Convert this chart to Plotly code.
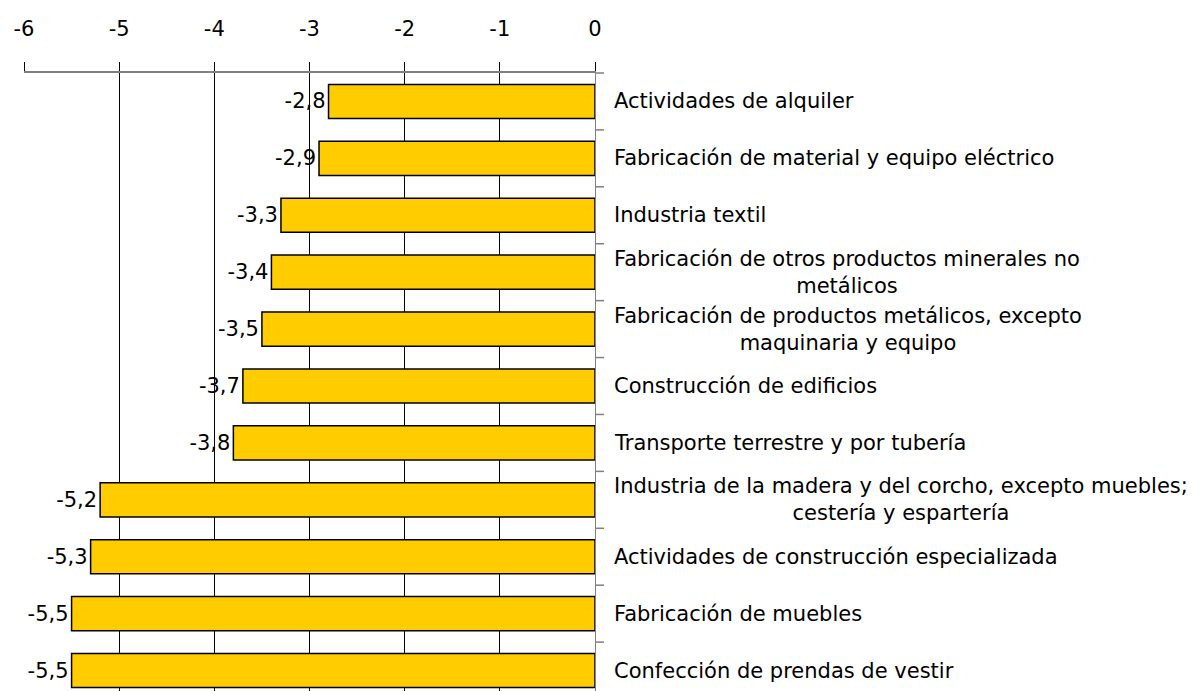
import plotly.graph_objects as go

categories = [
    "Actividades de alquiler",
    "Fabricación de material y equipo eléctrico",
    "Industria textil",
    "Fabricación de otros productos minerales no<br>metálicos",
    "Fabricación de productos metálicos, excepto<br>maquinaria y equipo",
    "Construcción de edificios",
    "Transporte terrestre y por tubería",
    "Industria de la madera y del corcho, excepto muebles;<br>cestería y espartería",
    "Actividades de construcción especializada",
    "Fabricación de muebles",
    "Confección de prendas de vestir",
]
values = [-2.8, -2.9, -3.3, -3.4, -3.5, -3.7, -3.8, -5.2, -5.3, -5.5, -5.5]
x_ticks = [-6, -5, -4, -3, -2, -1, 0]

FONT = "DejaVu Sans, Arial, sans-serif"
FS = 21
cat_ids = list(range(len(categories)))

fig = go.Figure()
fig.add_trace(go.Bar(
    x=values,
    y=cat_ids,
    orientation="h",
    width=0.6,
    marker=dict(color="#FFCC00", line=dict(color="black", width=1.5)),
    texttemplate="%{x:.1f}",
    textposition="outside",
    textfont=dict(size=FS, color="black", family=FONT),
    cliponaxis=False,
    hoverinfo="skip",
))

for i, c in enumerate(categories):
    fig.add_annotation(
        x=1, xref="paper", y=i, yref="y",
        xanchor="left", yanchor="middle", xshift=17,
        text=c, showarrow=False, align="center",
        font=dict(size=FS, color="black", family=FONT),
    )

# top axis line extends slightly beyond the right axis
fig.add_shape(type="line", xref="paper", yref="paper",
              x0=1, x1=1 + 9 / 571, y0=1, y1=1,
              line=dict(color="#808080", width=1.5))

fig.update_layout(
    width=1200, height=691,
    margin=dict(l=16, r=613, t=65, b=0),
    plot_bgcolor="white", paper_bgcolor="white",
    separators=",.",
    showlegend=False,
    font=dict(family=FONT, color="black", size=FS),
    xaxis=dict(
        side="top", range=[-6, 0], tickvals=x_ticks,
        ticktext=[str(v) for v in x_ticks],
        showgrid=True, gridcolor="black", gridwidth=1,
        zeroline=True, zerolinecolor="black", zerolinewidth=1,
        ticks="outside", ticklen=9, tickcolor="black", tickwidth=1,
        showline=True, linecolor="#808080", linewidth=1.5,
        ticklabelstandoff=18, automargin=False,
        tickfont=dict(size=FS, family=FONT, color="black"),
    ),
    yaxis=dict(
        side="right", range=[10.5, -0.5],
        tickvals=cat_ids, showticklabels=False,
        showgrid=False, zeroline=False, automargin=False,
        showline=True, linecolor="#808080", linewidth=1,
    ),
)

# category boundary ticks on the right axis
for b in range(1, len(categories)):
    fig.add_shape(type="line", xref="paper", yref="y",
                  x0=1, x1=1 + 9 / 571, y0=b - 0.5, y1=b - 0.5,
                  line=dict(color="#808080", width=1.5))

fig.write_html("out.html")
